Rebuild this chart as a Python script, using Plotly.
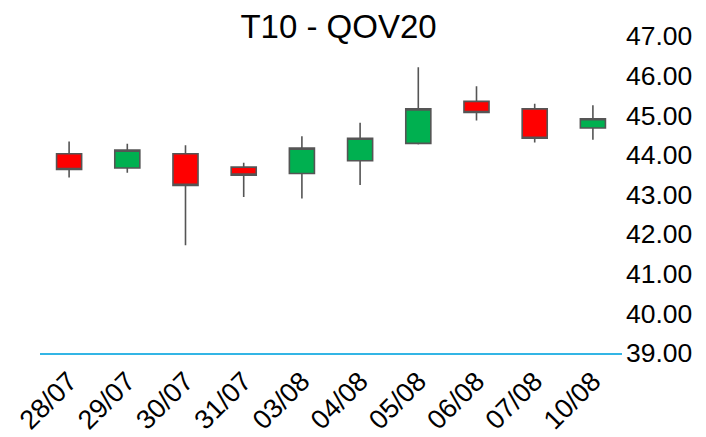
import plotly.graph_objects as go

dates = ["28/07", "29/07", "30/07", "31/07", "03/08", "04/08", "05/08", "06/08", "07/08", "10/08"]
open_ = [44.03, 43.67, 44.03, 43.69, 43.53, 43.85, 44.29, 45.35, 45.16, 44.68]
high = [44.34, 44.28, 44.24, 43.80, 44.47, 44.81, 46.21, 45.73, 45.29, 45.25]
low = [43.43, 43.55, 41.72, 42.94, 42.90, 43.24, 44.26, 44.87, 44.31, 44.38]
close = [43.63, 44.12, 43.23, 43.49, 44.17, 44.42, 45.16, 45.07, 44.42, 44.91]
y_ticks = [39, 40, 41, 42, 43, 44, 45, 46, 47]

fig = go.Figure(go.Candlestick(
    x=dates, open=open_, high=high, low=low, close=close,
    increasing=dict(fillcolor="#00B050", line=dict(color="#555555", width=1.6)),
    decreasing=dict(fillcolor="#FF0000", line=dict(color="#555555", width=1.6)),
    whiskerwidth=0,
))

fig.update_layout(
    width=706, height=437,
    margin=dict(l=32, r=92, t=28, b=92, autoexpand=False),
    paper_bgcolor="white", plot_bgcolor="white",
    font=dict(family="Liberation Sans, Arial, sans-serif", color="black"),
    title=dict(text="T10 - QOV20", x=330.5 / 706, xanchor="center",
               y=1 - 18 / 437, yanchor="middle",
               font=dict(size=33, color="black")),
    showlegend=False,
    boxgap=0.385,
    xaxis=dict(type="category", rangeslider=dict(visible=False), showgrid=False,
               showline=True, linecolor="#33B5E5", linewidth=1.5,
               tickangle=-45, tickfont=dict(size=27), ticks="", zeroline=False,
               automargin=False),
    yaxis=dict(side="right", range=[39, 47], tickvals=y_ticks, tickformat=".2f",
               showgrid=False, zeroline=False, showline=False, ticks="",
               tickfont=dict(size=26.5), ticklabelstandoff=3, automargin=False),
)

fig.write_html("out.html")
